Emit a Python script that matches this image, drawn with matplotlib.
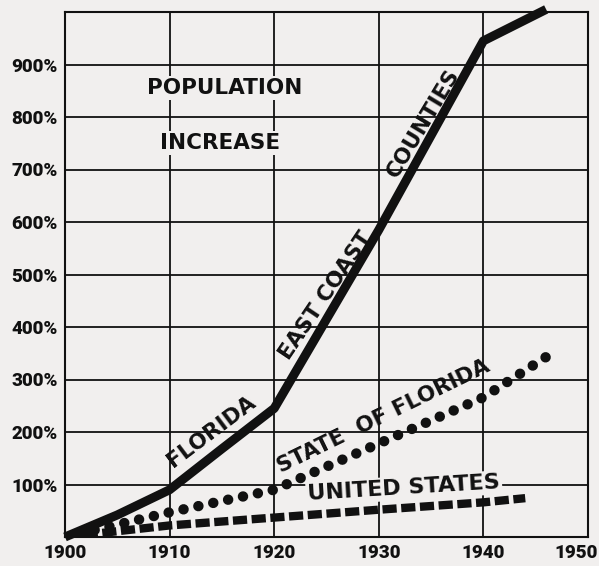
import matplotlib.pyplot as plt
import matplotlib.ticker as mticker
import matplotlib.transforms as mtransforms

# population increase since 1900, percent
years_coast = [1900, 1905, 1910, 1915, 1920, 1930, 1940, 1946]
coast = [0, 42, 90, 168, 245, 585, 945, 1005]

years_state = [1900, 1910, 1920, 1930, 1940, 1946]
state = [0, 47, 90, 178, 266, 343]

years_us = [1900, 1910, 1920, 1930, 1940, 1944]
us = [0, 22, 37, 52, 66, 74]

x_ticks = [1900, 1910, 1920, 1930, 1940, 1950]
y_ticks = [100, 200, 300, 400, 500, 600, 700, 800, 900]

bg = '#f1efee'
ink = '#111111'

fig = plt.figure(figsize=(5.99, 5.66), dpi=100, facecolor=bg)
ax = fig.add_axes([65/599, 29/566, 523/599, 525/566])
ax.set_facecolor(bg)
ax.set_xlim(1900, 1950)
ax.set_ylim(0, 1000)

ax.set_xticks(x_ticks)
ax.set_yticks(y_ticks)
ax.yaxis.set_major_formatter(mticker.FuncFormatter(lambda v, p: f"{int(v)}%"))
ax.tick_params(length=0, pad=5, colors=ink)
for lab in ax.get_xticklabels() + ax.get_yticklabels():
    lab.set_fontfamily(['Roboto', 'DejaVu Sans'])
    lab.set_fontweight('black')
    lab.set_fontsize(13.5)
# last year label sits against the right edge, as in the original
last = ax.get_xticklabels()[-1]
last.set_transform(last.get_transform() +
                   mtransforms.ScaledTranslation(-12/100, 0, fig.dpi_scale_trans))

ax.grid(True, color=ink, lw=1.3)
ax.set_axisbelow(True)
for s in ax.spines.values():
    s.set_color(ink)
    s.set_linewidth(1.5)

ax.plot(years_coast, coast, color=ink, lw=6.5, solid_capstyle='butt',
        solid_joinstyle='round', clip_on=False, zorder=3)
ax.plot(years_state, state, color=ink, lw=7.5, dashes=(0.01, 1.45),
        dash_capstyle='round', zorder=3)
ax.plot(years_us, us, color=ink, lw=6, dashes=(1.7, 0.55),
        dash_capstyle='butt', zorder=3)

box = dict(facecolor=bg, edgecolor='none', pad=1.5)
tkw = dict(color=ink, fontweight='bold', fontsize=15.5, ha='center', va='center',
           rotation_mode='anchor', zorder=4)
ax.text(1915.3, 855, 'POPULATION', bbox=box, **tkw)
ax.text(1914.8, 750, 'INCREASE', bbox=box, **tkw)
ax.text(1914.0, 200, 'FLORIDA', rotation=37, **tkw)
ax.text(1924.9, 459, 'EAST COAST', rotation=56, **tkw)
ax.text(1934.3, 789, 'COUNTIES', rotation=59, **tkw)
ax.text(1930.4, 230, 'STATE  OF FLORIDA', rotation=26, **tkw)
ax.text(1932.4, 93, 'UNITED STATES', rotation=3.5, bbox=box,
        **{**tkw, 'fontsize': 16})

fig.savefig('out.png', dpi=100, facecolor=bg)
